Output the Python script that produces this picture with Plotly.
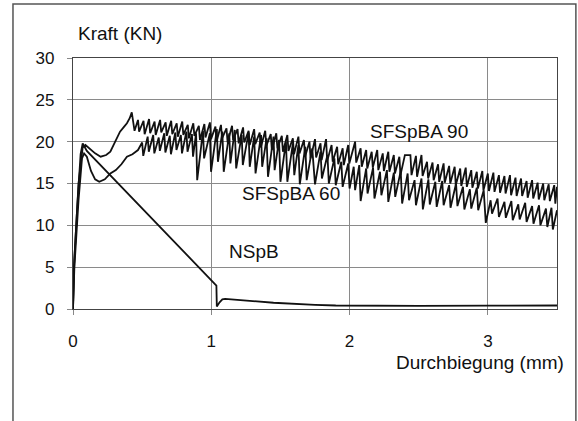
import plotly.graph_objects as go

# Load-deflection curves (deflection in mm, force in kN)
x_sfspba90 = [0, 0.01, 0.04, 0.07, 0.09, 0.12, 0.16, 0.2, 0.24, 0.27, 0.3, 0.34, 0.37, 0.39, 0.41, 0.425,
              0.445, 0.47, 0.478, 0.51, 0.518, 0.55, 0.558, 0.59, 0.598, 0.63, 0.638, 0.67, 0.678,
              0.71, 0.718, 0.75, 0.758, 0.79, 0.798, 0.83, 0.838, 0.87, 0.878, 0.91, 0.918, 0.95, 0.958,
              0.99, 0.998, 1.03, 1.038, 1.07, 1.078, 1.11, 1.118, 1.15, 1.158, 1.19, 1.198, 1.23, 1.238,
              1.27, 1.278, 1.31, 1.318, 1.35, 1.358, 1.39, 1.398, 1.43, 1.438, 1.47, 1.478, 1.51, 1.518,
              1.55, 1.558, 1.59, 1.598, 1.63, 1.638, 1.67, 1.678, 1.71, 1.718, 1.75, 1.758, 1.79, 1.798,
              1.83, 1.838, 1.87, 1.878, 1.91, 1.918, 1.95, 1.958, 1.99, 1.998, 2.04, 2.048, 2.08, 2.088,
              2.12, 2.128, 2.16, 2.168, 2.2, 2.208, 2.24, 2.248, 2.28, 2.288, 2.32, 2.328, 2.36, 2.368,
              2.4, 2.44, 2.448, 2.48, 2.488, 2.52, 2.528, 2.56, 2.568, 2.6, 2.608, 2.64, 2.648, 2.68, 2.688,
              2.72, 2.728, 2.76, 2.768, 2.8, 2.808, 2.84, 2.848, 2.88, 2.888, 2.92, 2.928, 2.96, 2.968,
              3.0, 3.008, 3.04, 3.048, 3.08, 3.088, 3.12, 3.128, 3.16, 3.168, 3.2, 3.208, 3.24, 3.248,
              3.28, 3.288, 3.32, 3.328, 3.36, 3.368, 3.4, 3.408, 3.44, 3.448, 3.48, 3.488, 3.5]
y_sfspba90 = [0, 6, 15, 19.3, 19.6, 19.2, 18.6, 18.2, 18.4, 18.8, 19.8, 21.2, 21.8, 22.2, 22.8, 23.5,
              21.3, 22.6, 21.2, 22.5, 20.9, 22.7, 21.0, 22.4, 20.8, 22.6, 21.1, 22.3, 20.7,
              22.5, 20.9, 22.2, 20.6, 22.4, 20.8, 22.0, 20.4, 22.2, 20.7, 21.9, 20.2, 22.1, 20.5,
              22.3, 20.3, 21.8, 20.0, 22.0, 20.4, 21.6, 19.9, 21.9, 20.2, 21.5, 19.8, 21.7, 19.9,
              21.3, 19.6, 21.5, 19.7, 21.1, 19.3, 21.3, 19.5, 20.9, 19.0, 21.0, 19.2, 20.7, 18.8,
              20.8, 18.9, 20.4, 18.5, 20.6, 18.6, 20.2, 18.2, 20.0, 18.0, 20.3, 18.1, 19.8, 17.8,
              20.3, 17.7, 19.6, 17.6, 19.4, 17.3, 19.2, 17.2, 19.6, 17.4, 20.0, 17.5, 19.2, 17.0,
              19.0, 16.8, 18.8, 16.9, 19.0, 16.6, 18.6, 16.5, 18.8, 16.4, 18.4, 16.2, 18.2, 16.0,
              18.4, 18.4, 16.0, 18.3, 15.8, 18.4, 15.9, 17.6, 15.6, 17.5, 15.4, 17.3, 15.2, 17.4, 15.1,
              17.1, 15.0, 17.0, 14.8, 16.8, 14.7, 16.9, 14.6, 16.6, 14.5, 16.4, 14.4, 16.5, 14.2,
              16.2, 14.1, 16.3, 14.0, 16.0, 13.9, 15.9, 13.8, 16.0, 13.6, 15.7, 13.5, 15.6, 13.5,
              15.3, 13.3, 15.4, 13.2, 15.1, 13.1, 15.0, 13.0, 14.9, 12.9, 14.8, 12.6, 14.6]

x_sfspba60 = [0, 0.01, 0.04, 0.065, 0.08, 0.1, 0.13, 0.16, 0.19, 0.23, 0.27, 0.31, 0.35, 0.39, 0.43, 0.47,
              0.5, 0.508, 0.54, 0.548, 0.58, 0.588, 0.62, 0.628, 0.66, 0.668, 0.7, 0.708, 0.74, 0.748,
              0.78, 0.788, 0.82, 0.828, 0.86, 0.868, 0.89, 0.898, 0.94, 0.948, 0.99, 0.998, 1.04, 1.048,
              1.08, 1.09, 1.13, 1.138, 1.17, 1.18, 1.22, 1.228, 1.27, 1.278, 1.31, 1.32, 1.36, 1.368,
              1.4, 1.41, 1.45, 1.458, 1.49, 1.5, 1.54, 1.55, 1.59, 1.6, 1.63, 1.64, 1.68, 1.69,
              1.73, 1.75, 1.79, 1.8, 1.84, 1.85, 1.89, 1.9, 1.94, 1.95, 1.99, 2.0, 2.03, 2.04,
              2.07, 2.08, 2.12, 2.13, 2.17, 2.18, 2.22, 2.23, 2.27, 2.28, 2.32, 2.33, 2.37, 2.38,
              2.42, 2.43, 2.47, 2.48, 2.52, 2.53, 2.57, 2.58, 2.62, 2.63, 2.67, 2.68, 2.72, 2.73,
              2.77, 2.78, 2.82, 2.83, 2.87, 2.88, 2.92, 2.93, 2.97, 2.985, 3.02, 3.03, 3.07, 3.08,
              3.12, 3.13, 3.17, 3.18, 3.22, 3.23, 3.27, 3.28, 3.32, 3.33, 3.37, 3.38, 3.42, 3.43,
              3.46, 3.47, 3.5]
y_sfspba60 = [0, 5, 13, 18.0, 18.6, 18.2, 16.5, 15.5, 15.2, 15.5, 16.2, 16.6, 17.3, 18.2, 18.5, 19.0,
              19.9, 18.3, 20.6, 18.8, 20.8, 18.6, 20.5, 18.9, 21.0, 18.7, 20.7, 18.5, 21.1, 19.0,
              20.8, 18.6, 21.2, 18.8, 20.9, 18.2, 21.0, 15.4, 21.3, 18.0, 21.0, 16.4, 21.5, 17.6,
              21.2, 16.4, 21.0, 17.4, 21.4, 16.8, 20.8, 17.2, 21.1, 17.0, 20.6, 16.2, 20.8, 17.0,
              20.4, 15.8, 20.6, 16.6, 20.2, 15.2, 20.0, 15.2, 19.8, 16.0, 19.6, 14.9, 19.4, 15.4,
              19.2, 14.9, 18.8, 15.6, 18.4, 15.0, 18.0, 14.8, 17.6, 14.6, 17.4, 14.4, 17.0, 14.2,
              17.2, 12.9, 16.8, 13.8, 16.9, 13.2, 16.4, 13.6, 16.6, 12.8, 16.3, 13.4, 16.5, 12.6,
              16.2, 13.0, 15.4, 12.4, 15.6, 11.9, 15.5, 12.5, 15.2, 12.2, 15.3, 12.4, 14.8, 12.1,
              15.0, 12.3, 14.6, 11.9, 14.3, 12.0, 14.5, 11.8, 14.2, 10.3, 13.0, 11.4, 13.2, 11.0,
              12.8, 10.9, 12.9, 10.6, 12.5, 10.7, 12.7, 10.4, 12.3, 10.2, 12.4, 10.0, 12.0, 9.8,
              12.1, 9.5, 11.8]

x_nspb = [0, 0.005, 0.03, 0.055, 0.07, 0.085, 0.1, 1.037, 1.04, 1.06, 1.08, 1.1, 1.2, 1.3, 1.45, 1.6,
          1.75, 1.9, 2.1, 2.5, 3.0, 3.5]
y_nspb = [0, 4.5, 12, 18.5, 19.8, 19.4, 18.9, 2.8, 0.3, 0.8, 1.15, 1.2, 1.1, 0.95, 0.75, 0.6,
          0.5, 0.42, 0.38, 0.38, 0.4, 0.42]

series = [
    ("SFSpBA 90", x_sfspba90, y_sfspba90),
    ("SFSpBA 60", x_sfspba60, y_sfspba60),
    ("NSpB", x_nspb, y_nspb),
]

# Curve labels placed next to their curves (deflection, force)
label_text = ["SFSpBA 90", "SFSpBA 60", "NSpB"]
label_x = [2.50, 1.573, 1.308]
label_y = [21.2, 13.86, 6.86]

x_ticks = [0, 1, 2, 3]
y_ticks = [0, 5, 10, 15, 20, 25, 30]

FONT = "Arial, Liberation Sans, sans-serif"

fig = go.Figure()
for name, xs, ys in series:
    fig.add_trace(go.Scatter(x=xs, y=ys, mode="lines", name=name,
                             line=dict(color="#111111", width=1.8)))

for t, lx, ly in zip(label_text, label_x, label_y):
    fig.add_annotation(x=lx, y=ly, xref="x", yref="y", text=t, showarrow=False,
                       font=dict(family=FONT, size=19, color="#111111"),
                       xanchor="center", yanchor="middle")

fig.add_annotation(x=0.097, y=1.0996, xref="paper", yref="paper", text="Kraft (KN)",
                   showarrow=False, font=dict(family=FONT, size=19, color="#111111"),
                   xanchor="center", yanchor="middle")
fig.add_annotation(x=0.841, y=-0.215, xref="paper", yref="paper", text="Durchbiegung (mm)",
                   showarrow=False, font=dict(family=FONT, size=19, color="#111111"),
                   xanchor="center", yanchor="middle")

# Outer chart frame
fig.add_shape(type="rect", xref="paper", yref="paper", x0=-0.124, x1=1.039, y0=-0.6, y1=1.215,
              line=dict(color="#555555", width=1.5), fillcolor="rgba(0,0,0,0)", layer="below")

fig.update_xaxes(range=[0, 3.5], tickvals=x_ticks, ticktext=[str(v) for v in x_ticks],
                 showgrid=True, gridcolor="#8a8a8a", gridwidth=1, zeroline=False,
                 showline=True, linecolor="#444444", linewidth=1.2, mirror=True,
                 ticks="outside", ticklen=5, tickcolor="#888888", ticklabelstandoff=11,
                 tickfont=dict(family=FONT, size=17, color="#111111"))
fig.update_yaxes(range=[0, 30], tickvals=y_ticks, ticktext=[str(v) for v in y_ticks],
                 showgrid=True, gridcolor="#8a8a8a", gridwidth=1, zeroline=False,
                 showline=True, linecolor="#444444", linewidth=1.2, mirror=True,
                 ticks="outside", ticklen=5, tickcolor="#888888", ticklabelstandoff=9,
                 tickfont=dict(family=FONT, size=17, color="#111111"))

fig.update_layout(width=578, height=421, margin=dict(l=73, r=21, t=58, b=112),
                  paper_bgcolor="white", plot_bgcolor="white", showlegend=False)

fig.write_html("out.html")
